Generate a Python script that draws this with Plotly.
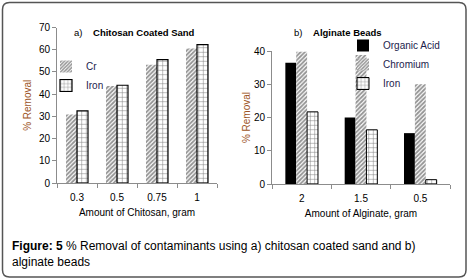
import plotly.graph_objects as go

# ---- data ----
chitosan_amount = ["0.3", "0.5", "0.75", "1"]
chitosan_cr = [30.8, 43.7, 53.2, 60.5]
chitosan_iron = [32.5, 44.0, 55.5, 62.3]

alginate_amount = ["2", "1.5", "0.5"]
alginate_organic = [36.5, 20.0, 15.3]
alginate_chromium = [39.8, 38.8, 30.0]
alginate_iron = [21.7, 16.3, 1.3]

left_ticks = [0, 10, 20, 30, 40, 50, 60, 70]
right_ticks = [0, 10, 20, 30, 40]

W, H = 469, 280
FONT = "Liberation Sans, Arial, sans-serif"
LEG_COLOR = "#1c1c4c"
YT_COLOR = "#9c5424"
AX_COLOR = "#8c8c8c"

hatch = dict(shape="/", fgcolor="#2a2a2a", bgcolor="white", size=3, solidity=0.62)
grid = dict(shape="+", fgcolor="black", bgcolor="white", size=4.5, solidity=0.22)

fig = go.Figure()

fig.add_trace(go.Bar(x=chitosan_amount, y=chitosan_cr, name="Cr",
                     marker=dict(pattern=hatch, color="white", line=dict(width=0)),
                     xaxis="x", yaxis="y", legend="legend"))
fig.add_trace(go.Bar(x=chitosan_amount, y=chitosan_iron, name="Iron",
                     marker=dict(pattern=grid, color="white", line=dict(color="black", width=1.2)),
                     xaxis="x", yaxis="y", legend="legend"))

fig.add_trace(go.Bar(x=alginate_amount, y=alginate_organic, name="Organic Acid",
                     marker=dict(color="black", line=dict(width=0)),
                     xaxis="x2", yaxis="y2", legend="legend2"))
fig.add_trace(go.Bar(x=alginate_amount, y=alginate_chromium, name="Chromium",
                     marker=dict(pattern=hatch, color="white", line=dict(width=0)),
                     xaxis="x2", yaxis="y2", legend="legend2"))
fig.add_trace(go.Bar(x=alginate_amount, y=alginate_iron, name="Iron",
                     marker=dict(pattern=grid, color="white", line=dict(color="black", width=1)),
                     xaxis="x2", yaxis="y2", legend="legend2"))

axis_common = dict(showline=True, linecolor=AX_COLOR, linewidth=1, ticks="outside",
                   tickcolor=AX_COLOR, ticklen=4, showgrid=False, zeroline=False,
                   automargin=False,
                   tickfont=dict(size=10, color="black", family=FONT))

fig.update_layout(
    width=W, height=H,
    margin=dict(l=0, r=0, t=0, b=0, autoexpand=False),
    paper_bgcolor="white", plot_bgcolor="white",
    font=dict(family=FONT, size=10, color="black"),
    barmode="group",
    bargap=0.45, bargroupgap=0,
    showlegend=True,
    xaxis=dict(domain=[57 / W, 217 / W], anchor="y", type="category",
               tickson="boundaries", ticklabelstandoff=5,
               title=dict(text="Amount of Chitosan, gram", font=dict(size=10), standoff=6),
               **axis_common),
    yaxis=dict(domain=[1 - 183 / H, 1 - 27.5 / H], anchor="x", range=[0, 70],
               tickvals=left_ticks,
               title=dict(text="% Removal", font=dict(size=10, color=YT_COLOR), standoff=5),
               **axis_common),
    xaxis2=dict(domain=[272 / W, 450 / W], anchor="y2", type="category",
                tickson="boundaries", ticklabelstandoff=5,
                title=dict(text="Amount of Alginate, gram", font=dict(size=10), standoff=6),
                **axis_common),
    yaxis2=dict(domain=[1 - 184 / H, 1 - 51 / H], anchor="x2", range=[0, 40],
                tickvals=right_ticks,
                title=dict(text="% Removal", font=dict(size=10, color=YT_COLOR), standoff=1),
                **axis_common),
    legend=dict(x=46 / W, y=1 - 52 / H, xanchor="left", yanchor="top",
                bgcolor="rgba(0,0,0,0)", font=dict(size=10, color=LEG_COLOR),
                itemwidth=30, tracegroupgap=0, traceorder="normal"),
    legend2=dict(x=343 / W, y=1 - 31 / H, xanchor="left", yanchor="top",
                 bgcolor="rgba(0,0,0,0)", font=dict(size=10, color=LEG_COLOR),
                 itemwidth=30, tracegroupgap=0, traceorder="normal"),
)

# panel titles
fig.add_annotation(text="a)&nbsp;&nbsp;&nbsp;&nbsp;<b>Chitosan Coated Sand</b>",
                   x=72 / W, y=1 - 32 / H, xref="paper", yref="paper",
                   xanchor="left", yanchor="middle", showarrow=False,
                   font=dict(size=9.5, color="black"))
fig.add_annotation(text="b)&nbsp;&nbsp;&nbsp;&nbsp;<b>Alginate Beads</b>",
                   x=292 / W, y=1 - 32 / H, xref="paper", yref="paper",
                   xanchor="left", yanchor="middle", showarrow=False,
                   font=dict(size=9.5, color="black"))

# caption
fig.add_annotation(text="<b>Figure: 5</b> % Removal of contaminants using a) chitosan coated sand and b)<br>alginate beads",
                   x=10 / W, y=1 - 237 / H, xref="paper", yref="paper",
                   xanchor="left", yanchor="top", align="left", showarrow=False,
                   font=dict(size=12, color="black"))

# rounded outer frame
x0, x1, y0, y1, r = 2.5, 466, 2.5, 277, 7
def px(x):
    return x / W
def py(y):
    return 1 - y / H
path = (f"M {px(x0 + r)},{py(y0)} L {px(x1 - r)},{py(y0)} Q {px(x1)},{py(y0)} {px(x1)},{py(y0 + r)} "
        f"L {px(x1)},{py(y1 - r)} Q {px(x1)},{py(y1)} {px(x1 - r)},{py(y1)} "
        f"L {px(x0 + r)},{py(y1)} Q {px(x0)},{py(y1)} {px(x0)},{py(y1 - r)} "
        f"L {px(x0)},{py(y0 + r)} Q {px(x0)},{py(y0)} {px(x0 + r)},{py(y0)} Z")
fig.add_shape(type="path", path=path, xref="paper", yref="paper",
              line=dict(color="#555555", width=1.5), layer="above")

fig.write_html("out.html", config={"displayModeBar": False},
               post_script="document.body.style.margin='0';document.body.style.padding='0';")
